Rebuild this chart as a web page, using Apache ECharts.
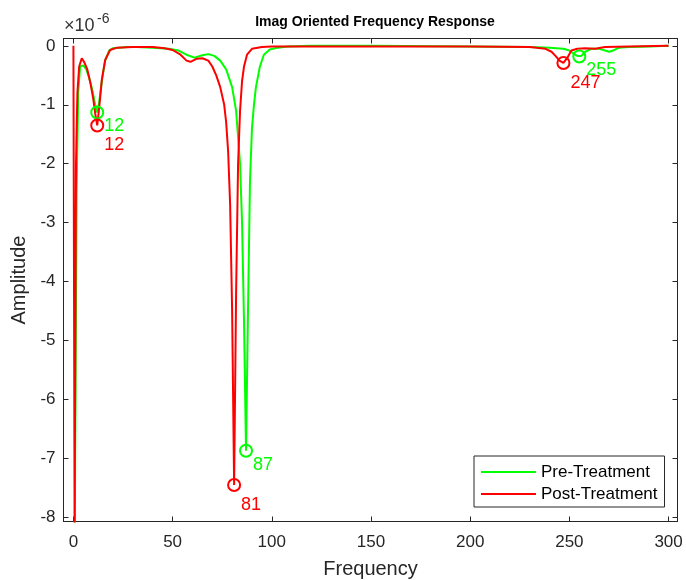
<!DOCTYPE html>
<html>
<head>
<meta charset="utf-8">
<script src="https://cdn.jsdelivr.net/npm/echarts@6/dist/echarts.min.js"></script>
<style>
html,body{margin:0;padding:0;background:#fff;}
#chart{width:686px;height:580px;}
</style>
</head>
<body>
<div id="chart"></div>
<script>
// Frequency axis ticks and amplitude ticks (x 1e-6)
const xTicks = [0, 50, 100, 150, 200, 250, 300];
const yTicks = [0, -1, -2, -3, -4, -5, -6, -7, -8];

// Pre-Treatment (green) — its initial drop is hidden under the red trace
const preX = [0.7, 1.6, 2.4, 3.4, 5, 6.5, 8, 9.5, 11, 12, 13, 14.5, 16, 18, 20, 23, 27, 32, 40, 48, 53, 57, 61, 65, 68, 71, 74, 77, 80, 82, 84, 85, 86, 87, 88, 89, 90, 91, 92, 94, 96, 99, 103, 108, 120, 150, 200, 230, 240, 247, 250, 252, 254, 255, 256, 258, 261, 265, 268, 270, 272, 275, 280, 290, 300];
const preY = [-8.2, -2.5, -0.8, -0.35, -0.33, -0.4, -0.55, -0.75, -1.0, -1.13, -0.95, -0.55, -0.25, -0.08, -0.04, -0.03, -0.02, -0.02, -0.03, -0.05, -0.08, -0.15, -0.2, -0.16, -0.14, -0.17, -0.25, -0.4, -0.7, -1.1, -2.0, -3.0, -4.7, -6.87, -4.5, -2.3, -1.4, -1.0, -0.7, -0.35, -0.15, -0.06, -0.03, -0.01, 0, 0, -0.01, -0.02, -0.03, -0.05, -0.08, -0.13, -0.17, -0.18, -0.17, -0.1, -0.05, -0.05, -0.08, -0.1, -0.08, -0.03, -0.02, -0.01, 0];

// Post-Treatment (red)
const postX = [0, 0.6, 1.3, 2.0, 2.9, 4.2, 5.5, 7, 8.5, 10, 11, 12, 13, 14.3, 16, 18.5, 22, 30, 40, 46, 50, 54, 57, 59, 62, 65, 68, 70, 72, 74, 76, 77, 78, 79, 80, 81, 82, 83, 84, 85, 86, 87.5, 90, 95, 100, 150, 200, 230, 238, 241, 243, 245, 247, 249, 251, 254, 258, 263, 268, 280, 300];
const postY = [0, -8.2, -2.0, -0.8, -0.35, -0.21, -0.28, -0.4, -0.62, -0.9, -1.15, -1.35, -1.05, -0.58, -0.24, -0.07, -0.03, -0.02, -0.02, -0.04, -0.07, -0.15, -0.25, -0.27, -0.22, -0.21, -0.25, -0.35, -0.5, -0.7, -1.0, -1.3, -1.8, -2.7, -4.5, -7.45, -4.2, -2.0, -1.1, -0.6, -0.35, -0.15, -0.05, -0.02, -0.01, -0.01, -0.01, -0.02, -0.05, -0.1, -0.17, -0.25, -0.29, -0.2, -0.08, -0.05, -0.04, -0.05, -0.02, -0.01, 0];

// Marked peaks
const prePeakX = [12, 87, 255];
const prePeakY = [-1.13, -6.87, -0.18];
const postPeakX = [12, 81, 247];
const postPeakY = [-1.35, -7.45, -0.29];

const GREEN = '#00ff00';
const RED = '#ff0000';
const AX = '#262626';
const FONT = 'Liberation Sans, Arial, Helvetica, sans-serif';

const zip = (xs, ys) => xs.map((x, i) => [x, ys[i]]);

const chart = echarts.init(document.getElementById('chart'), null, {renderer: 'canvas'});

const baseX = {
  type: 'value', min: -5, max: 304.5,
  axisLine: {show: true, onZero: false, lineStyle: {color: AX, width: 1}},
  axisTick: {show: true, inside: true, length: 5, lineStyle: {color: AX}, customValues: xTicks},
  splitLine: {show: false}
};
const baseY = {
  type: 'value', min: -8.07, max: 0.125,
  axisLine: {show: true, onZero: false, lineStyle: {color: AX, width: 1}},
  axisTick: {show: true, inside: true, length: 5, lineStyle: {color: AX}, customValues: yTicks},
  splitLine: {show: false}
};

function peakSeries(name, xs, ys, color, dy) {
  return {
    type: 'scatter', name: name, data: zip(xs, ys),
    symbol: 'circle', symbolSize: 12, z: 5,
    itemStyle: {color: 'rgba(0,0,0,0)', borderColor: color, borderWidth: 2, opacity: 1},
    label: {
      show: true, position: 'inside', align: 'left', verticalAlign: 'middle',
      offset: [7, dy], color: color, fontSize: 18, fontFamily: FONT,
      formatter: p => String(p.value[0])
    },
    silent: true, animation: false
  };
}

chart.setOption({
  animation: false,
  backgroundColor: '#fff',
  title: {
    text: 'Imag Oriented Frequency Response',
    left: 370, top: 10, textAlign: 'center',
    textStyle: {fontSize: 14, fontWeight: 'bold', color: '#000', fontFamily: FONT}
  },
  graphic: [
    {type: 'text', left: 64, top: 17, style: {text: '×10', fontSize: 18, fill: '#333', fontFamily: FONT}},
    {type: 'text', left: 97, top: 12, style: {text: '-6', fontSize: 14, fill: '#333', fontFamily: FONT}}
  ],
  grid: {left: 63.5, right: 8.5, top: 38.5, bottom: 58.5, containLabel: false, outerBoundsMode: 'none'},
  legend: {
    data: ['Pre-Treatment', 'Post-Treatment'],
    orient: 'vertical', left: 474, top: 456,
    backgroundColor: '#fff', borderColor: AX, borderWidth: 1,
    padding: [7, 7, 4, 7],
    itemGap: 4, itemWidth: 55, itemHeight: 2, icon: 'rect',
    textStyle: {fontSize: 17, color: '#000', fontFamily: FONT, lineHeight: 18}
  },
  xAxis: [
    Object.assign({}, baseX, {
      position: 'bottom',
      name: 'Frequency', nameLocation: 'middle', nameGap: 38,
      nameTextStyle: {fontSize: 20, color: AX, fontFamily: FONT},
      axisLabel: {show: true, color: AX, fontSize: 17, fontFamily: FONT, margin: 12, customValues: xTicks}
    }),
    Object.assign({}, baseX, {position: 'top', axisLabel: {show: false}})
  ],
  yAxis: [
    Object.assign({}, baseY, {
      position: 'left',
      name: 'Amplitude', nameLocation: 'middle', nameGap: 31,
      nameTextStyle: {fontSize: 20, color: AX, fontFamily: FONT},
      axisLabel: {show: true, color: AX, fontSize: 17, fontFamily: FONT, margin: 8, customValues: yTicks}
    }),
    Object.assign({}, baseY, {position: 'right', axisLabel: {show: false}})
  ],
  series: [
    {
      type: 'line', name: 'Pre-Treatment', data: zip(preX, preY),
      showSymbol: false, symbol: 'none', clip: true,
      lineStyle: {color: GREEN, width: 2}, itemStyle: {color: GREEN}, z: 2
    },
    {
      type: 'line', name: 'Post-Treatment', data: zip(postX, postY),
      showSymbol: false, symbol: 'none', clip: true,
      lineStyle: {color: RED, width: 2}, itemStyle: {color: RED}, z: 3
    },
    peakSeries('prePeaks', prePeakX, prePeakY, GREEN, 14),
    peakSeries('postPeaks', postPeakX, postPeakY, RED, 20)
  ]
});
</script>
</body>
</html>
